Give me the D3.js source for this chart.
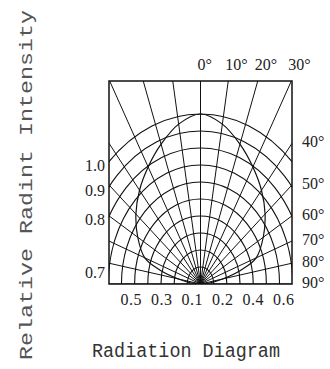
<!DOCTYPE html>
<html lang="en">
<head>
<meta charset="UTF-8">
<title>Radiation Diagram</title>
<script src="https://cdnjs.cloudflare.com/ajax/libs/d3/7.8.5/d3.min.js"></script>
<style>
  html, body { margin: 0; padding: 0; background: #fff; }
  svg { display: block; }
  text { fill: #222; }
</style>
</head>
<body>
<div id="chart"></div>
<script>
// intensity curve (symmetric about 0 deg)
const angles = [0, 10, 20, 30, 40, 50, 60, 70, 75, 80, 85, 90];
const intensity = [1.0, 0.955, 0.875, 0.795, 0.72, 0.64, 0.55, 0.45, 0.32, 0.17, 0.07, 0];

// grid
const rings = [0.1, 0.2, 0.3, 0.4, 0.5, 0.6, 0.7, 0.8, 0.9, 1.0];
const spokes = d3.range(-90, 91, 10);

// tick labels
const leftTicks = [1.0, 0.9, 0.8, 0.7];
const topTicks = [0, 10, 20, 30];
const rightTicks = [40, 50, 60, 70, 80, 90];
const bottomTicks = ['0.5', '0.3', '0.1', '0.2', '0.4', '0.6'];

const W = 330, H = 369;
const box = { left: 109, right: 292, top: 81, bottom: 284 };
const cx = (box.left + box.right) / 2;
const cy = box.bottom;

// picture is stretched: vertical unit bigger than horizontal unit
const ry = d3.scaleLinear().domain([0, 1]).range([0, 170]);
const rx = d3.scaleLinear().domain([0, 1]).range([0, 170 * 0.775]);
const rad = d3.scaleLinear().domain([0, 180]).range([0, Math.PI]);

const px = (a, r) => cx + rx(r) * Math.sin(rad(a));
const py = (a, r) => cy - ry(r) * Math.cos(rad(a));

const svg = d3.select('#chart').append('svg')
  .attr('width', W).attr('height', H);

svg.append('clipPath').attr('id', 'clip')
  .append('rect')
  .attr('x', box.left).attr('y', box.top)
  .attr('width', box.right - box.left).attr('height', box.bottom - box.top);

const g = svg.append('g').attr('clip-path', 'url(#clip)');

// concentric rings
g.selectAll('ellipse').data(rings).enter().append('ellipse')
  .attr('cx', cx).attr('cy', cy)
  .attr('rx', d => rx(d)).attr('ry', d => ry(d))
  .attr('fill', 'none').attr('stroke', '#111').attr('stroke-width', 1.1);

// spokes
g.selectAll('line.spoke').data(spokes).enter().append('line')
  .attr('class', 'spoke')
  .attr('x1', cx).attr('y1', cy)
  .attr('x2', d => px(d, 3)).attr('y2', d => py(d, 3))
  .attr('stroke', '#111').attr('stroke-width', 1);

// intensity curve, both sides
const pts = [];
for (let i = angles.length - 1; i > 0; i--) pts.push([-angles[i], intensity[i]]);
for (let i = 0; i < angles.length; i++) pts.push([angles[i], intensity[i]]);

const line = d3.line()
  .x(d => px(d[0], d[1]))
  .y(d => py(d[0], d[1]))
  .curve(d3.curveCatmullRom);

g.append('path').datum(pts)
  .attr('d', line)
  .attr('fill', 'none').attr('stroke', '#111').attr('stroke-width', 1.2);

// frame
svg.append('rect')
  .attr('x', box.left).attr('y', box.top)
  .attr('width', box.right - box.left).attr('height', box.bottom - box.top)
  .attr('fill', 'none').attr('stroke', '#111').attr('stroke-width', 1.5);

const numFont = "'Liberation Serif', serif";

// left labels: where the ring meets the left edge
const dxEdge = cx - box.left;
svg.selectAll('text.left').data(leftTicks).enter().append('text')
  .attr('class', 'left')
  .attr('x', box.left - 4)
  .attr('y', d => {
    const k = Math.min(1, dxEdge / rx(d));
    return cy - ry(d) * Math.sqrt(1 - k * k) + 9;
  })
  .attr('text-anchor', 'end')
  .attr('font-family', numFont).attr('font-size', 16)
  .text(d => d.toFixed(1));

// top labels: where the spoke meets the top edge
svg.selectAll('text.top').data(topTicks).enter().append('text')
  .attr('class', 'top')
  .attr('x', d => cx + (cy - box.top) * Math.tan(rad(d)) * 0.775 - 3)
  .attr('y', 70)
  .attr('font-family', numFont).attr('font-size', 16)
  .text(d => d + '°');

// right labels: where the spoke meets the right edge
svg.selectAll('text.right').data(rightTicks).enter().append('text')
  .attr('class', 'right')
  .attr('x', box.right + 10)
  .attr('y', d => {
    const t = Math.tan(rad(d));
    return cy - (box.right - cx) / 0.775 / (t > 1e6 ? Infinity : t) + 4;
  })
  .attr('font-family', numFont).attr('font-size', 16)
  .text(d => d + '°');

// bottom labels
const xb = d3.scalePoint().domain(bottomTicks.map((d, i) => i)).range([131, 283.5]);
svg.selectAll('text.bottom').data(bottomTicks).enter().append('text')
  .attr('class', 'bottom')
  .attr('x', (d, i) => xb(i))
  .attr('y', 305)
  .attr('text-anchor', 'middle')
  .attr('font-family', numFont).attr('font-size', 16)
  .attr('textLength', 21).attr('lengthAdjust', 'spacing')
  .text(d => d);

// axis title
svg.append('text')
  .attr('transform', 'translate(32,185) rotate(-90)')
  .attr('text-anchor', 'middle')
  .attr('font-family', "'Liberation Mono', monospace").attr('font-size', 19)
  .attr('textLength', 350).attr('lengthAdjust', 'spacingAndGlyphs')
  .style('fill', '#555')
  .text('Relative Radint Intensity');

// caption
svg.append('text')
  .attr('x', 186).attr('y', 357)
  .attr('text-anchor', 'middle')
  .attr('font-family', "'Liberation Mono', monospace").attr('font-size', 20)
  .attr('textLength', 188).attr('lengthAdjust', 'spacingAndGlyphs')
  .style('fill', '#333')
  .text('Radiation Diagram');
</script>
</body>
</html>
